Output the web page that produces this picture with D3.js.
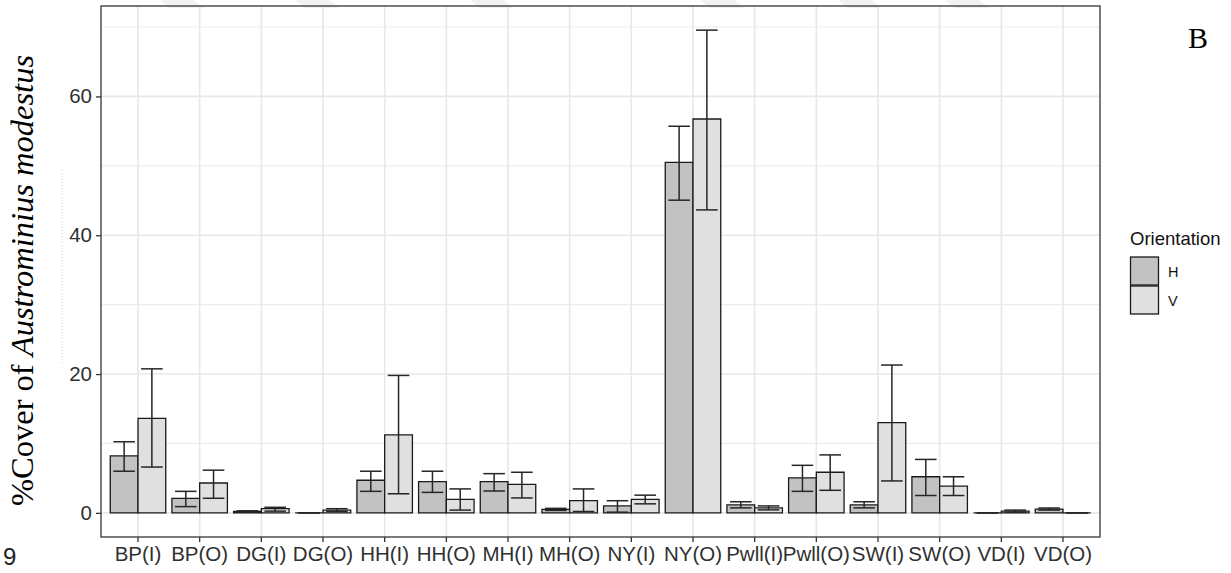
<!DOCTYPE html>
<html>
<head>
<meta charset="utf-8">
<script src="https://cdn.jsdelivr.net/npm/d3@7"></script>
<style>
  html, body { margin: 0; padding: 0; background: #fff; }
  svg { display: block; }
</style>
</head>
<body>
<svg id="chart" width="1231" height="573"></svg>
<script>
// Site / shore categories along the x axis
const sites = ["BP(I)","BP(O)","DG(I)","DG(O)","HH(I)","HH(O)","MH(I)","MH(O)",
               "NY(I)","NY(O)","Pwll(I)","Pwll(O)","SW(I)","SW(O)","VD(I)","VD(O)"];
const orientations = ["H", "V"];

// Mean % cover and error bar limits, horizontal surfaces
const meanH = [8.2, 2.1, 0.2, 0, 4.7, 4.5, 4.5, 0.5, 1.0, 50.5, 1.15, 5.05, 1.15, 5.2, 0, 0.55];
const lowH  = [6.0, 0.9, 0.1, 0, 3.1, 2.95, 3.15, 0.35, 0.1, 45.05, 0.72, 3.1, 0.72, 2.5, 0, 0.4];
const highH = [10.25, 3.1, 0.3, 0, 6.0, 6.0, 5.65, 0.65, 1.75, 55.7, 1.6, 6.85, 1.6, 7.7, 0, 0.7];

// Mean % cover and error bar limits, vertical surfaces
const meanV = [13.6, 4.3, 0.6, 0.4, 11.25, 1.95, 4.1, 1.75, 1.95, 56.75, 0.72, 5.85, 13.0, 3.85, 0.25, 0];
const lowV  = [6.6, 2.1, 0.25, 0.2, 2.75, 0.4, 2.15, 0.2, 1.3, 43.65, 0.43, 3.25, 4.6, 2.5, 0.1, 0];
const highV = [20.75, 6.15, 0.8, 0.6, 19.8, 3.45, 5.85, 3.45, 2.55, 69.55, 1.0, 8.35, 21.3, 5.2, 0.4, 0];

const yTicks = [0, 20, 40, 60];
const yMinor = [10, 30, 50, 70];

const fills = { H: "#c2c2c2", V: "#e0e0e0" };

// Long-format rows built from the arrays above
const rows = [];
sites.forEach((s, i) => {
  rows.push({ site: s, ori: "H", mean: meanH[i], lo: lowH[i], hi: highH[i] });
  rows.push({ site: s, ori: "V", mean: meanV[i], lo: lowV[i], hi: highV[i] });
});

const svg = d3.select("#chart");
const panel = { left: 101, right: 1100, top: 6, bottom: 537 };

// faint watermark strokes along the top edge of the page
const wm = [160, 295, 470, 700, 838, 945];
svg.append("g").selectAll("path").data(wm).join("path")
  .attr("d", d => `M${d},0H${d + 34}L${d + 44},8H${d + 10}Z`)
  .attr("fill", "#f2f2f2");

// y range with 5% expansion either side of [0, max]
const yMax = d3.max(rows, d => d.hi);
const pad = yMax * 0.05;
const y = d3.scaleLinear().domain([-pad, yMax + pad]).range([panel.bottom, panel.top]);

// discrete x with 0.6 category expansion at each end
const x = d3.scaleBand().domain(sites).range([panel.left, panel.right])
  .paddingInner(0).paddingOuter(0.1);
const step = x.step();
const xo = d3.scaleBand().domain(orientations)
  .range([0.05 * step, 0.95 * step]).padding(0);
const center = s => x(s) + step / 2;

// grid
const grid = svg.append("g");
grid.selectAll("line.minor").data(yMinor).join("line")
  .attr("x1", panel.left).attr("x2", panel.right)
  .attr("y1", d => y(d)).attr("y2", d => y(d))
  .attr("stroke", "#ededed").attr("stroke-width", 1.2);
grid.selectAll("line.major").data(yTicks).join("line")
  .attr("x1", panel.left).attr("x2", panel.right)
  .attr("y1", d => y(d)).attr("y2", d => y(d))
  .attr("stroke", "#e8e8e8").attr("stroke-width", 1.6);
grid.selectAll("line.vx").data(sites).join("line")
  .attr("x1", d => center(d)).attr("x2", d => center(d))
  .attr("y1", panel.top).attr("y2", panel.bottom)
  .attr("stroke", "#e8e8e8").attr("stroke-width", 1.6);

// bars (paths so zero-height bars still show their outline)
svg.append("g").selectAll("path").data(rows).join("path")
  .attr("d", d => {
    const x0 = x(d.site) + xo(d.ori), x1 = x0 + xo.bandwidth();
    const y0 = y(0), y1 = y(d.mean);
    return `M${x0},${y0}H${x1}V${y1}H${x0}Z`;
  })
  .attr("fill", d => fills[d.ori])
  .attr("stroke", "#1a1a1a").attr("stroke-width", 1.3);

// error bars
const cap = 0.35 * step;
const eb = svg.append("g").attr("stroke", "#262626").attr("stroke-width", 1.5).attr("fill", "none");
rows.forEach(d => {
  const cx = x(d.site) + xo(d.ori) + xo.bandwidth() / 2;
  eb.append("line").attr("x1", cx).attr("x2", cx).attr("y1", y(d.lo)).attr("y2", y(d.hi));
  eb.append("line").attr("x1", cx - cap / 2).attr("x2", cx + cap / 2).attr("y1", y(d.hi)).attr("y2", y(d.hi));
  eb.append("line").attr("x1", cx - cap / 2).attr("x2", cx + cap / 2).attr("y1", y(d.lo)).attr("y2", y(d.lo));
});

// panel border
svg.append("rect")
  .attr("x", panel.left).attr("y", panel.top)
  .attr("width", panel.right - panel.left).attr("height", panel.bottom - panel.top)
  .attr("fill", "none").attr("stroke", "#333").attr("stroke-width", 1.3);

// axes
const axisFont = "'Liberation Sans', Arial, sans-serif";
const xAxis = svg.append("g").attr("transform", `translate(0,${panel.bottom})`)
  .call(d3.axisBottom(x).tickSize(5).tickPadding(4));
xAxis.select(".domain").remove();
xAxis.selectAll(".tick line").attr("stroke", "#333").attr("stroke-width", 1.3);
xAxis.selectAll(".tick text").attr("fill", "#303030")
  .style("font-family", axisFont).style("font-size", "20.5px");

const yAxis = svg.append("g").attr("transform", `translate(${panel.left},0)`)
  .call(d3.axisLeft(y).tickValues(yTicks).tickSize(5).tickPadding(4));
yAxis.select(".domain").remove();
yAxis.selectAll(".tick line").attr("stroke", "#333").attr("stroke-width", 1.3);
yAxis.selectAll(".tick text").attr("fill", "#303030")
  .style("font-family", axisFont).style("font-size", "20.5px");

// y axis title, serif with the species name in italics
const yt = svg.append("text")
  .attr("transform", `translate(33,${(55 + 506) / 2}) rotate(-90)`)
  .attr("text-anchor", "middle")
  .style("font-family", "'Liberation Serif', 'Times New Roman', serif")
  .style("font-size", "32.5px").attr("fill", "#000");
yt.append("tspan").text("%Cover of ");
yt.append("tspan").style("font-style", "italic").text("Austrominius modestus");

// panel letter
svg.append("text").attr("x", 1188).attr("y", 48)
  .style("font-family", "'Liberation Serif', 'Times New Roman', serif")
  .style("font-size", "30px").attr("fill", "#000").text("B");

// page number
svg.append("text").attr("x", 3).attr("y", 565)
  .style("font-family", axisFont).style("font-size", "24px").attr("fill", "#222").text("9");

// faint dotted rule left of the axis
svg.append("line").attr("x1", 62).attr("x2", 62).attr("y1", 170).attr("y2", 365)
  .attr("stroke", "#a8e6f2").attr("stroke-width", 1).attr("stroke-dasharray", "1,2");

// legend
const lg = svg.append("g").attr("transform", "translate(1130,0)");
lg.append("text").attr("x", 0).attr("y", 245)
  .style("font-family", axisFont).style("font-size", "18.5px").attr("fill", "#111").text("Orientation");
const keyH = 29;
orientations.forEach((o, i) => {
  const ky = 257 + i * keyH;
  lg.append("rect").attr("x", 0.5).attr("y", ky).attr("width", 28).attr("height", keyH - 1)
    .attr("fill", fills[o]).attr("stroke", "#1a1a1a").attr("stroke-width", 1.3);
  lg.append("text").attr("x", 38).attr("y", ky + keyH / 2 + 5)
    .style("font-family", axisFont).style("font-size", "14.5px").attr("fill", "#111").text(o);
});
</script>
</body>
</html>
